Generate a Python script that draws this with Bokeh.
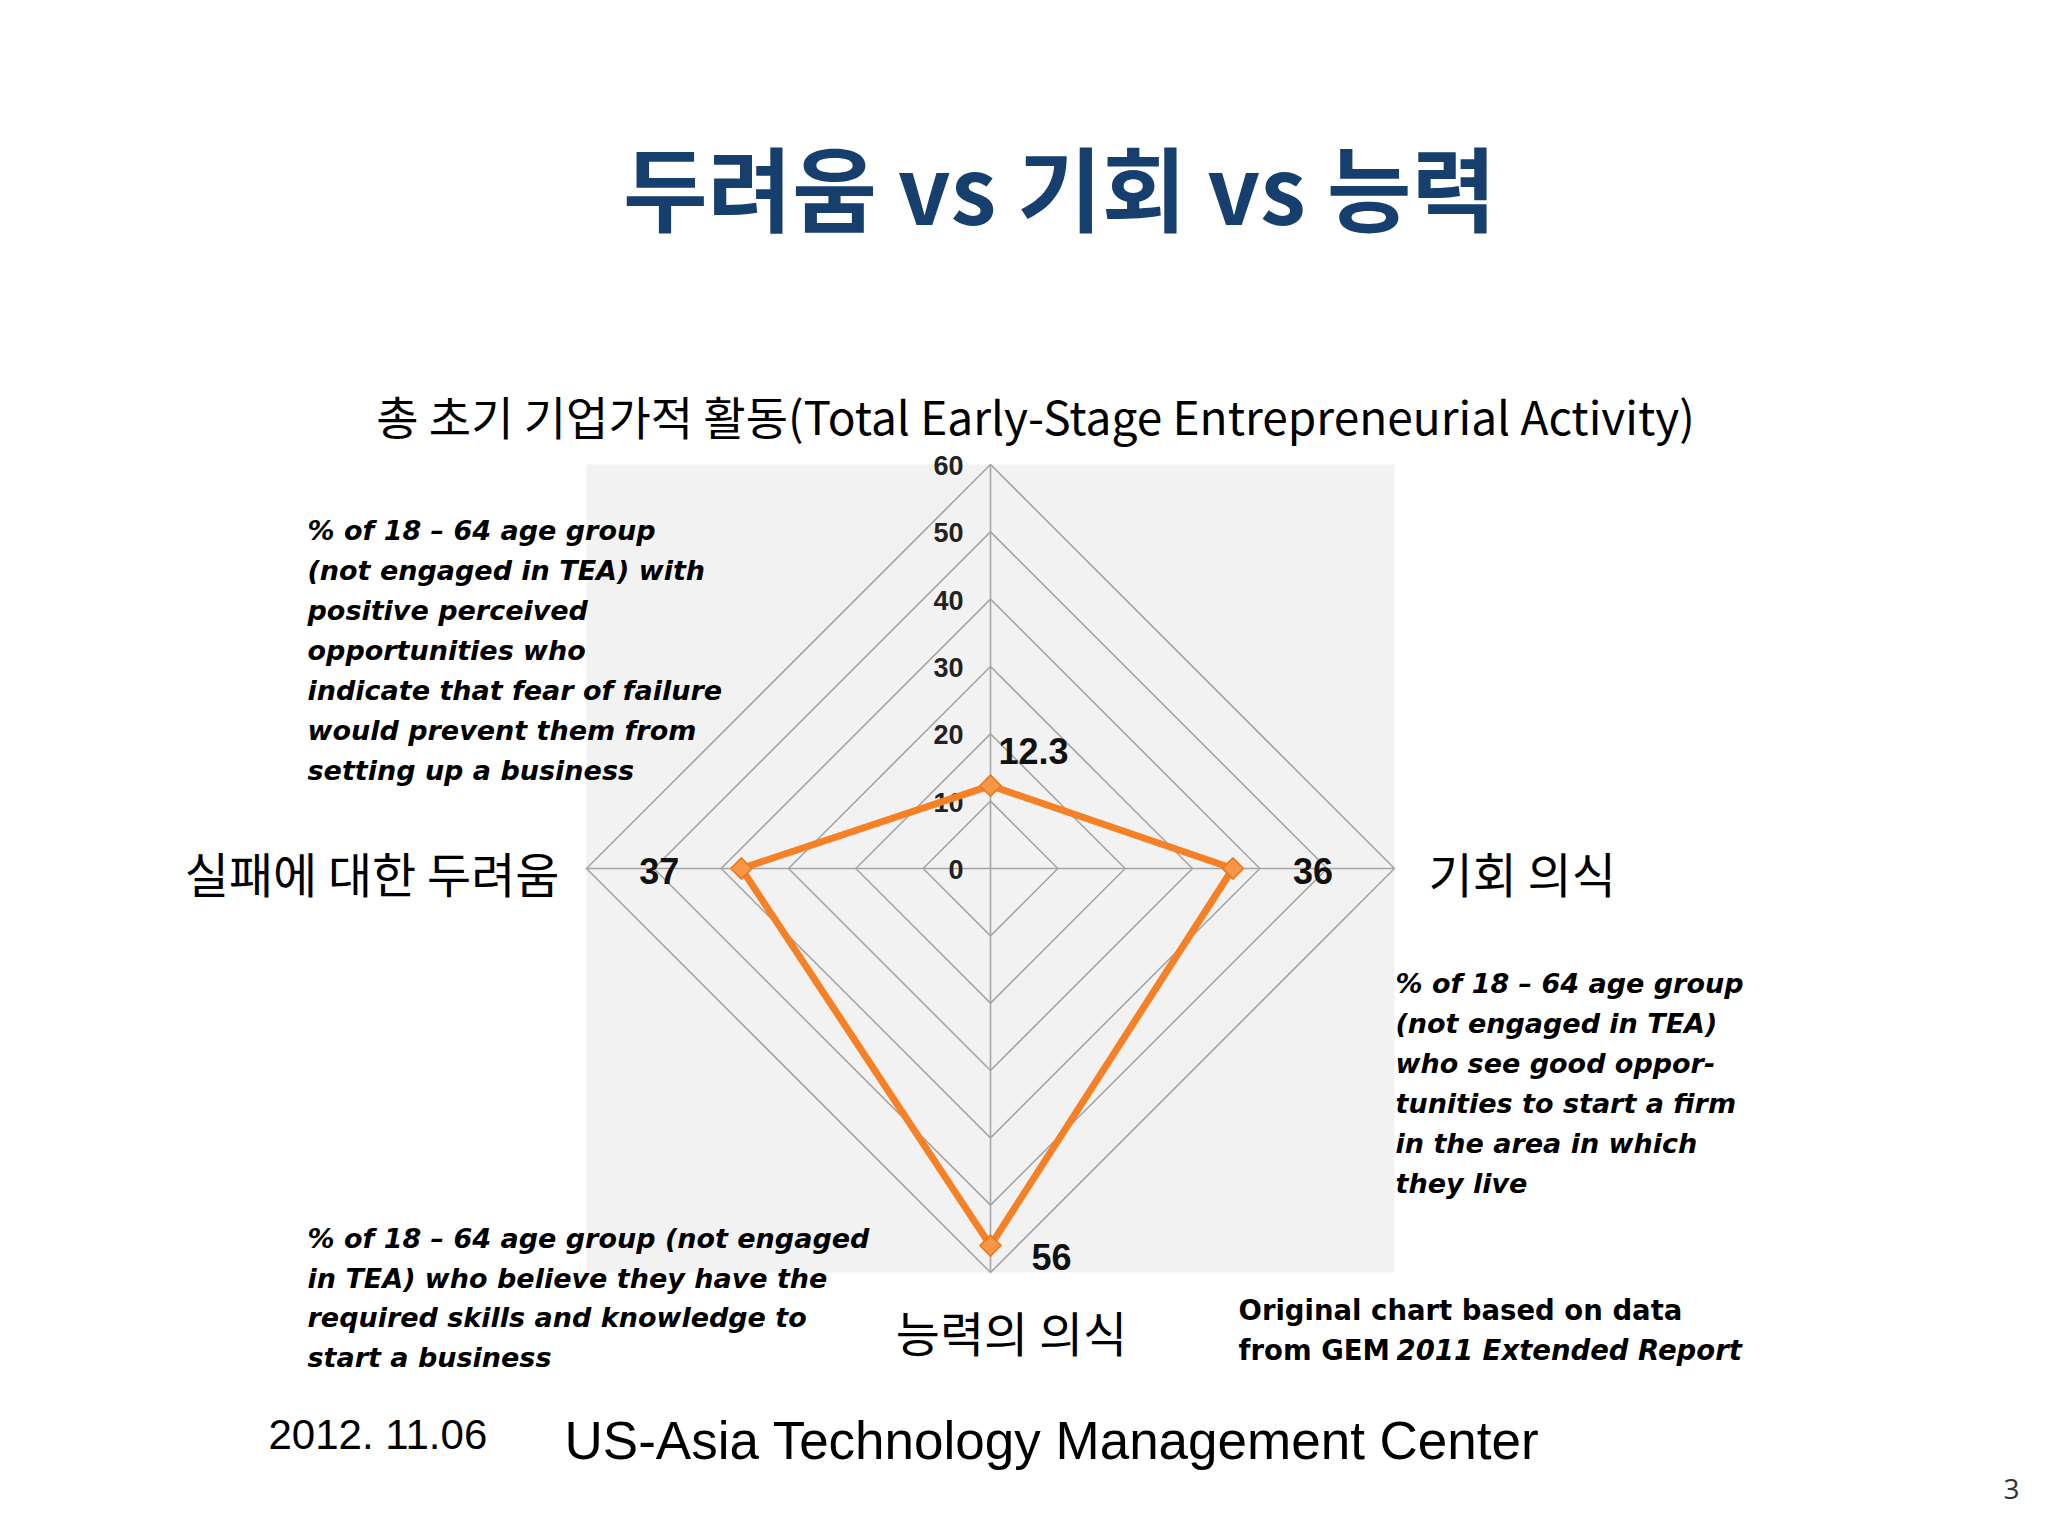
import math
from bokeh.plotting import figure
from bokeh.models import Range1d
from bokeh.core.properties import value
from bokeh.embed import file_html
from bokeh.resources import INLINE

# ---------------- data ----------------
title_text = "두려움 vs 기회 vs 능력"
categories = [
    "총 초기 기업가적 활동(Total Early-Stage Entrepreneurial Activity)",
    "기회 의식",
    "능력의 의식",
    "실패에 대한 두려움",
]
values = [12.3, 36, 56, 37]
value_labels = ["12.3", "36", "56", "37"]
tick_values = [0, 10, 20, 30, 40, 50, 60]
tick_labels = ["0", "10", "20", "30", "40", "50", "60"]

note_fear = [
    "% of 18 – 64 age group",
    "(not engaged in TEA) with",
    "positive perceived",
    "opportunities who",
    "indicate that fear of failure",
    "would prevent them from",
    "setting up a business",
]
note_opportunity = [
    "% of 18 – 64 age group",
    "(not engaged in TEA)",
    "who see good oppor-",
    "tunities to start a firm",
    "in the area in which",
    "they live",
]
note_capability = [
    "% of 18 – 64 age group (not engaged",
    "in TEA) who believe they have the",
    "required skills and knowledge to",
    "start a business",
]
source_line1 = "Original chart based on data"
source_line2a = "from GEM"
source_line2b = "2011 Extended Report"
footer_date = "2012. 11.06"
footer_org = "US-Asia Technology Management Center"
page_number = "3"

# ---------------- layout ----------------
W, H = 2032, 1520
ORIGIN = 0                 # page offset of the canvas
CX, CY = 990, 868          # radar centre on the page (px)
R_PX = 404                 # radius of outer ring (px)
rmax = tick_values[-1]
K = R_PX / rmax            # px per value unit
angles = [90, 0, -90, 180]  # top, right, bottom, left


def px(X, Y):
    """page pixel -> data coords"""
    return (X - CX) / K, (CY - Y) / K


p = figure(
    width=W, height=H,
    x_range=Range1d((ORIGIN - CX) / K, (ORIGIN + W - CX) / K),
    y_range=Range1d((CY - (ORIGIN + H)) / K, (CY - ORIGIN) / K),
    x_axis_location=None, y_axis_location=None,
    toolbar_location=None, output_backend="svg",
    min_border=0, outline_line_color=None,
    background_fill_color="white", border_fill_color="white",
)
p.xgrid.visible = False
p.ygrid.visible = False

# plot-area background
p.quad(left=-rmax, right=rmax, bottom=-rmax, top=rmax,
       fill_color="#F2F2F2", line_color=None)

# grid rings
ring_xs, ring_ys = [], []
for t in tick_values[1:]:
    xs = [t * math.cos(math.radians(a)) for a in angles]
    ys = [t * math.sin(math.radians(a)) for a in angles]
    ring_xs.append(xs + xs[:1])
    ring_ys.append(ys + ys[:1])
p.multi_line(ring_xs, ring_ys, line_color="#A6A6A6", line_width=1.6)

# spokes
p.multi_line([[0, rmax * math.cos(math.radians(a))] for a in angles],
             [[0, rmax * math.sin(math.radians(a))] for a in angles],
             line_color="#A6A6A6", line_width=1.6)

# tick labels
p.text(x=[0] * len(tick_values), y=tick_values, text=tick_labels,
       text_font=value("Liberation Sans"), text_font_style="bold",
       text_font_size="27px", text_align="right", text_baseline="middle",
       text_color="#222222", x_offset=-27, y_offset=1)

# data series
sx = [v * math.cos(math.radians(a)) for v, a in zip(values, angles)]
sy = [v * math.sin(math.radians(a)) for v, a in zip(values, angles)]
p.line(sx + sx[:1], sy + sy[:1], line_color="#F58025", line_width=7,
       line_join="round")
p.scatter(sx, sy, marker="square", angle=math.pi / 4, size=15,
          fill_color="#F79646", line_color="#E8761E", line_width=1.5)

# value labels (offsets in px from each point)
lab_dx = [8, 80, 61, -82]
lab_dy = [-35, 2, 11, 2]
lab_align = ["left", "center", "center", "center"]
for xv, yv, t, dx, dy, al in zip(sx, sy, value_labels, lab_dx, lab_dy, lab_align):
    p.text(x=[xv], y=[yv], text=[t], x_offset=dx, y_offset=dy,
           text_font=value("Liberation Sans"), text_font_style="bold",
           text_font_size="36px", text_align=al, text_baseline="middle",
           text_color="#111111")

KR = value("Noto Sans CJK KR")

# title
tx, ty = px(1059, 184)
p.text(x=[tx], y=[ty], text=[title_text], text_font=KR,
       text_font_style="bold", text_font_size="92px", text_align="center",
       text_baseline="middle", text_color="#173F6E")

# category labels
cat_pos = [(1035, 414, "center", "46px"), (1428, 871, "left", "48px"),
           (1011, 1330, "center", "48px"), (559, 871, "right", "48px")]
for name, (X, Y, al, fs) in zip(categories, cat_pos):
    x, y = px(X, Y)
    p.text(x=[x], y=[y], text=[name], text_font=KR,
           text_font_size=fs, text_align=al, text_baseline="middle",
           text_color="#000000")

# notes
NOTE_FONT = value("DejaVu Sans")


def note(lines, X, Y0, step, size="27px", style="bold italic"):
    xs, ys = [], []
    for i, _ in enumerate(lines):
        x, y = px(X, Y0 + i * step)
        xs.append(x)
        ys.append(y)
    p.text(x=xs, y=ys, text=lines, text_font=NOTE_FONT,
           text_font_style=style, text_font_size=size,
           text_align="left", text_baseline="alphabetic",
           text_color="#000000")


note(note_fear, 307, 530, 40.0)
note(note_opportunity, 1395, 983, 40.0)
note(note_capability, 307, 1238, 39.6)
note([source_line1, source_line2a], 1238, 1309, 40, size="27.5px", style="bold")
note([source_line2b], 1396, 1349, 40, size="27.5px", style="bold italic")

# footer
x, y = px(268, 1434)
p.text(x=[x], y=[y], text=[footer_date], text_font=value("Liberation Sans"),
       text_font_size="42px", text_align="left", text_baseline="alphabetic",
       text_color="#000000")
x, y = px(564, 1440)
p.text(x=[x], y=[y], text=[footer_org], text_font=value("Liberation Sans"),
       text_font_size="53px", text_align="left", text_baseline="alphabetic",
       text_color="#000000")
x, y = px(2011, 1488)
p.text(x=[x], y=[y], text=[page_number], text_font=value("Open Sans"),
       text_font_size="28px", text_align="center", text_baseline="middle",
       text_color="#333333")

open("out.html", "w").write(file_html(p, INLINE))
